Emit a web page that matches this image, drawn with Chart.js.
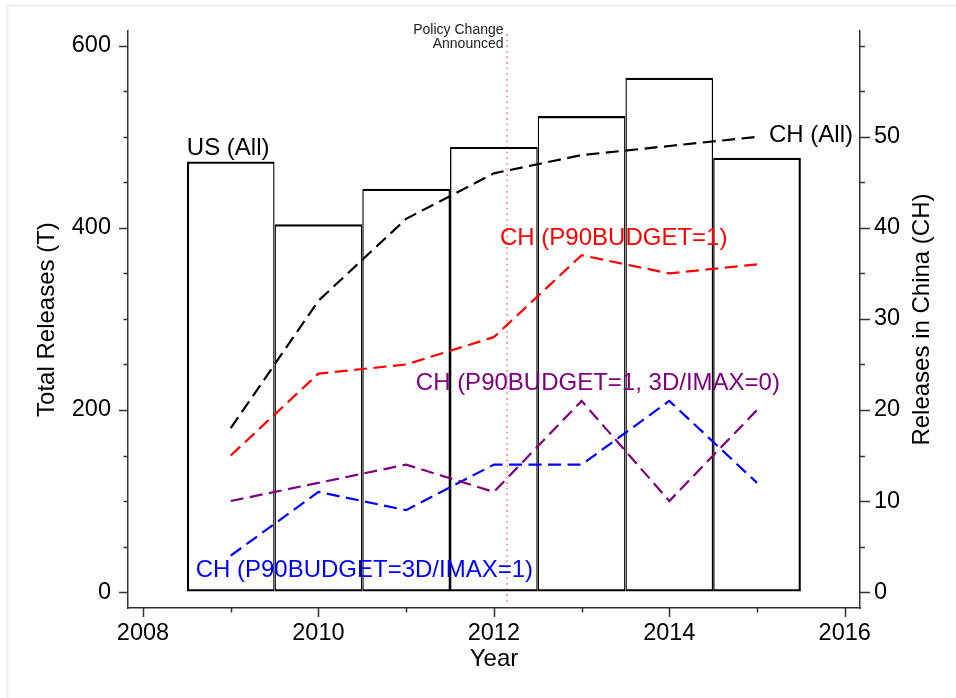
<!DOCTYPE html>
<html>
<head>
<meta charset="utf-8">
<title>Movie releases, US and China</title>
<script src="https://cdn.jsdelivr.net/npm/chart.js@4.4.1/dist/chart.umd.min.js"></script>
<style>
  html, body { margin: 0; padding: 0; background: #ffffff; }
  canvas { display: block; }
</style>
</head>
<body>
<canvas id="chart" width="956" height="698"></canvas>
<script>
// ---- data -------------------------------------------------------------
const years = [2009, 2010, 2011, 2012, 2013, 2014, 2015];
const usAll = [473, 404, 443, 489, 523, 565, 477];          // total US releases (left axis)
const chAll = [18, 32, 41, 46, 48, 49, 50];                 // China releases (right axis)
const chBudget = [15, 24, 25, 28, 37, 35, 36];              // P90BUDGET=1
const chBudgetNo3d = [10, 12, 14, 11, 21, 10, 20];          // P90BUDGET=1, 3D/IMAX=0
const chBudget3d = [4, 11, 9, 14, 14, 21, 12];              // P90BUDGET=3D/IMAX=1
const policyYear = 2012.15;

// ---- ticks ------------------------------------------------------------
const xTickValues = [2008, 2009, 2010, 2011, 2012, 2013, 2014, 2015, 2016];
const xTickLabels = [2008, 2010, 2012, 2014, 2016];
const leftTickValues = [0, 50, 100, 150, 200, 250, 300, 350, 400, 450, 500, 550, 600];
const leftTickLabels = [0, 200, 400, 600];
const rightTickValues = [0, 5, 10, 15, 20, 25, 30, 35, 40, 45, 50, 55, 60];
const rightTickLabels = [0, 10, 20, 30, 40, 50];

// ---- look -------------------------------------------------------------
const FONT = '"Liberation Sans", Arial, Helvetica, sans-serif';
const AXIS = '#333333';
const DASH = [13, 6.5];
const TICK_FONT = { size: 23.5, family: FONT };
const TITLE_FONT = { size: 24, family: FONT };
Chart.defaults.font.family = FONT;

const pts = vals => years.map((yr, i) => ({ x: yr, y: vals[i] }));

// free-standing series captions, placed in data coordinates of the right axis
const captions = [
  { text: 'CH (P90BUDGET=1)', color: '#ff0000', x: 2012.07, y: 38.8 },
  { text: 'CH (P90BUDGET=1, 3D/IMAX=0)', color: '#800080', x: 2011.11, y: 22.9 },
  { text: 'CH (P90BUDGET=3D/IMAX=1)', color: '#0000ff', x: 2008.60, y: 2.4 }
];

const decor = {
  id: 'decor',
  beforeDraw(chart) {
    const ctx = chart.ctx;
    ctx.save();
    ctx.fillStyle = '#ffffff';
    ctx.fillRect(0, 0, chart.width, chart.height);
    ctx.strokeStyle = '#e9eff1';
    ctx.lineWidth = 2;
    ctx.beginPath();
    ctx.moveTo(7.5, chart.height);
    ctx.lineTo(7.5, 5.5);
    ctx.lineTo(chart.width, 5.5);
    ctx.stroke();
    ctx.restore();
  },
  beforeDatasetsDraw(chart) {
    // vertical marker for the policy announcement
    const { ctx, chartArea, scales: { x } } = chart;
    const px = x.getPixelForValue(policyYear);
    ctx.save();
    ctx.strokeStyle = '#ff5555';
    ctx.lineWidth = 1.2;
    ctx.setLineDash([1.8, 3.8]);
    ctx.beginPath();
    ctx.moveTo(px, chartArea.top + 3);
    ctx.lineTo(px, chartArea.bottom - 3);
    ctx.stroke();
    ctx.setLineDash([]);
    ctx.fillStyle = '#222222';
    ctx.font = '14px ' + FONT;
    ctx.textAlign = 'right';
    ctx.textBaseline = 'middle';
    ctx.fillText('Policy Change', px - 3.5, 30.5);
    ctx.fillText('Announced', px - 3.5, 44);
    ctx.restore();
  },
  afterDraw(chart) {
    const { ctx, scales: { x, y, y2 } } = chart;
    ctx.save();
    // tick marks: long at labelled values, short in between
    ctx.strokeStyle = AXIS;
    ctx.lineWidth = 1.5;
    ctx.beginPath();
    xTickValues.forEach(v => {
      const px = Math.round(x.getPixelForValue(v)) + 0.5;
      const len = xTickLabels.includes(v) ? 9 : 4.5;
      ctx.moveTo(px, x.top); ctx.lineTo(px, x.top + len);
    });
    leftTickValues.forEach(v => {
      const py = Math.round(y.getPixelForValue(v)) + 0.5;
      const len = leftTickLabels.includes(v) ? 9 : 4.5;
      ctx.moveTo(y.right, py); ctx.lineTo(y.right - len, py);
    });
    rightTickValues.forEach(v => {
      const py = Math.round(y2.getPixelForValue(v)) + 0.5;
      const len = rightTickLabels.includes(v) ? 10 : 5;
      ctx.moveTo(y2.left, py); ctx.lineTo(y2.left + len, py);
    });
    ctx.stroke();

    // series captions
    ctx.font = '24px ' + FONT;
    ctx.textAlign = 'left';
    ctx.fillStyle = '#000000';
    ctx.textBaseline = 'alphabetic';
    ctx.fillText('US (All)', x.getPixelForValue(years[0] - 0.5), y.getPixelForValue(usAll[0]) - 6);
    ctx.textBaseline = 'middle';
    const last = years.length - 1;
    ctx.fillText('CH (All)', x.getPixelForValue(years[last]) + 12, y2.getPixelForValue(chAll[last]) - 1.5);
    captions.forEach(c => {
      ctx.fillStyle = c.color;
      ctx.fillText(c.text, x.getPixelForValue(c.x), y2.getPixelForValue(c.y));
    });

    // right axis title, reading bottom to top
    ctx.fillStyle = '#000000';
    ctx.textAlign = 'center';
    ctx.translate(922.5, (y2.top + y2.bottom) / 2);
    ctx.rotate(-Math.PI / 2);
    ctx.fillText('Releases in China (CH)', 0, 0);
    ctx.restore();
  }
};

const lineSet = (label, vals, color) => ({
  type: 'line',
  label,
  data: pts(vals),
  xAxisID: 'x',
  yAxisID: 'y2',
  borderColor: color,
  borderWidth: 2.2,
  borderDash: DASH,
  pointRadius: 0,
  tension: 0,
  fill: false,
  order: 0
});

new Chart(document.getElementById('chart'), {
  data: {
    datasets: [
      {
        type: 'bar',
        label: 'US (All)',
        data: pts(usAll),
        xAxisID: 'x',
        yAxisID: 'y',
        backgroundColor: 'rgba(255,255,255,0)',
        borderColor: '#000000',
        borderWidth: ctx => ({
          top: 2.2, bottom: 2.2,
          left: ctx.dataIndex === 0 ? 2.2 : 1.3,
          right: ctx.dataIndex === years.length - 1 ? 2.2 : 1.3
        }),
        borderSkipped: false,
        inflateAmount: 0,
        barPercentage: 1,
        categoryPercentage: 1,
        order: 2
      },
      lineSet('CH (All)', chAll, '#000000'),
      lineSet('CH (P90BUDGET=1)', chBudget, '#ff0000'),
      lineSet('CH (P90BUDGET=1, 3D/IMAX=0)', chBudgetNo3d, '#800080'),
      lineSet('CH (P90BUDGET=3D/IMAX=1)', chBudget3d, '#0000ff')
    ]
  },
  options: {
    responsive: false,
    animation: false,
    events: [],
    layout: { padding: { top: 30, left: 0, right: 0, bottom: 0 } },
    plugins: { legend: { display: false }, tooltip: { enabled: false } },
    scales: {
      x: {
        type: 'linear',
        position: 'bottom',
        min: 2007.829,
        max: 2016.174,
        offset: false,
        afterBuildTicks: s => { s.ticks = xTickValues.map(v => ({ value: v })); },
        ticks: {
          autoSkip: false, maxRotation: 0, padding: 11.5, color: '#000000',
          font: TICK_FONT,
          callback: v => xTickLabels.includes(v) ? String(v) : ''
        },
        grid: { display: true, drawOnChartArea: false, drawTicks: false },
        border: { display: true, color: AXIS, width: 1.5 },
        title: {
          display: true, text: 'Year', color: '#000000',
          font: TITLE_FONT, padding: { top: 0, bottom: 24.4 }
        },
        afterFit: s => { s.height = 90; }
      },
      y: {
        type: 'linear',
        position: 'left',
        min: -17.5,
        max: 616.2,
        afterBuildTicks: s => { s.ticks = leftTickValues.map(v => ({ value: v })); },
        ticks: {
          autoSkip: false, padding: 17, color: '#000000',
          font: TICK_FONT,
          callback: v => leftTickLabels.includes(v) ? String(v) : ''
        },
        grid: { display: true, drawOnChartArea: false, drawTicks: false },
        border: { display: true, color: AXIS, width: 1.5 },
        title: {
          display: true, text: 'Total Releases (T)', color: '#000000',
          font: TITLE_FONT, padding: { top: 33.3, bottom: 0 }
        },
        afterFit: s => { s.width = 128; }
      },
      y2: {
        type: 'linear',
        position: 'right',
        min: -1.75,
        max: 61.62,
        afterBuildTicks: s => { s.ticks = rightTickValues.map(v => ({ value: v })); },
        ticks: {
          autoSkip: false, padding: 14, color: '#000000',
          font: TICK_FONT,
          callback: v => rightTickLabels.includes(v) ? String(v) : ''
        },
        grid: { display: true, drawOnChartArea: false, drawTicks: false },
        border: { display: true, color: AXIS, width: 1.5 },
        afterFit: s => { s.width = 96; }
      }
    }
  },
  plugins: [decor]
});
</script>
</body>
</html>
